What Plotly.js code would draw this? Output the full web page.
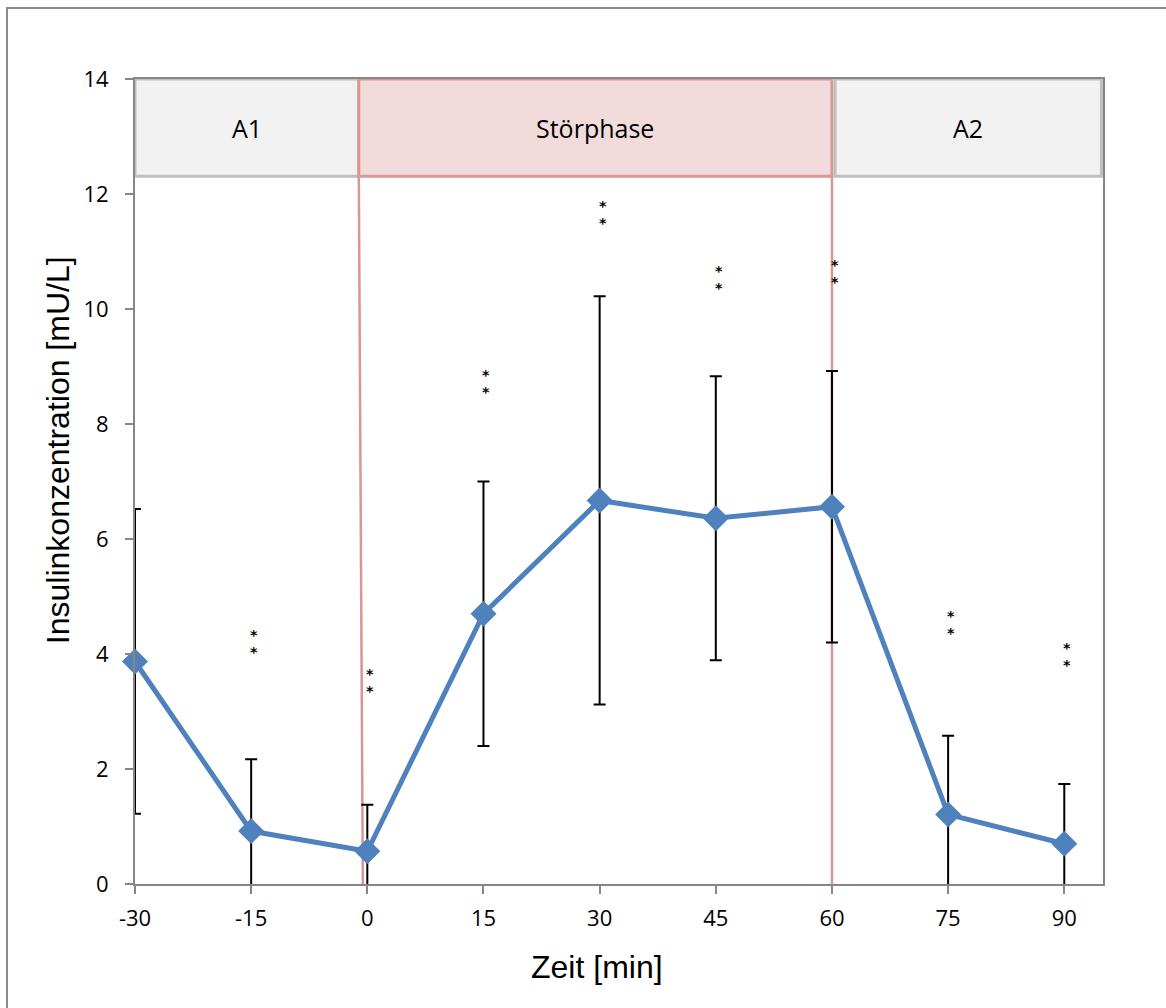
<!DOCTYPE html>
<html>
<head>
<meta charset="utf-8">
<script src="https://cdn.plot.ly/plotly-3.0.1.min.js"></script>
<style>
  html, body { margin: 0; padding: 0; background: #fff; }
  #wrap { position: relative; width: 1166px; height: 1008px; overflow: hidden; }
  #chart { width: 1166px; height: 1008px; }
  #frame { position: absolute; left: 6px; top: 7px; width: 1300px; height: 1200px;
           border-left: 2px solid #8c8c8c; border-top: 2px solid #8c8c8c; pointer-events: none; }
</style>
</head>
<body>
<div id="wrap">
  <div id="chart"></div>
  <div id="frame"></div>
</div>
<script>
// ---- data ----
const zeit = [-30, -15, 0, 15, 30, 45, 60, 75, 90];
const tickLabels = ['-30', '-15', '0', '15', '30', '45', '60', '75', '90'];
const insulin = [3.87, 0.92, 0.57, 4.70, 6.67, 6.36, 6.56, 1.21, 0.70];
const sd = [2.65, 1.25, 0.81, 2.30, 3.55, 2.47, 2.36, 1.37, 1.04];
// y position (centre) of the "**" significance marks, null = none
const sigPos = [null, 4.18, 3.51, 8.71, 11.65, 10.52, 10.62, 4.52, 3.95];
const sigText = '**';
const phaseNames = ['A1', 'Störphase', 'A2'];
const phaseStart = [-30, -1.1, 60.4];
const phaseEnd = [-1.1, 60, 94.8];
const phaseBandBottom = 12.31;
const xTitle = 'Zeit [min]';
const yTitle = 'Insulinkonzentration [mU/L]';

const blue = '#4F81BD';
const axisGrey = '#868686';

const traces = [
  { // error bars (clipped to plot area)
    x: zeit, y: insulin, type: 'scatter', mode: 'markers',
    marker: { size: 1, color: 'rgba(0,0,0,0)' },
    error_y: { type: 'data', array: sd, visible: true, color: '#000', thickness: 2, width: 6 },
    hoverinfo: 'skip', showlegend: false
  },
  { // mean line
    x: zeit, y: insulin, type: 'scatter', mode: 'lines+markers',
    line: { color: blue, width: 5 },
    marker: { symbol: 'diamond', size: 20, color: blue },
    cliponaxis: false, showlegend: false
  }
];

const shapes = [];
const annotations = [];
phaseNames.forEach((name, i) => {
  const isStoer = name === 'Störphase';
  shapes.push({
    type: 'rect', xref: 'x', yref: 'y', layer: 'above',
    x0: phaseStart[i], x1: phaseEnd[i], y0: phaseBandBottom, y1: 14,
    fillcolor: isStoer ? '#F2DCDB' : '#F2F2F2',
    line: { color: isStoer ? '#D99694' : '#BFBFBF', width: 3 }
  });
  annotations.push({
    xref: 'x', yref: 'y', x: (phaseStart[i] + phaseEnd[i]) / 2, y: (phaseBandBottom + 14) / 2,
    text: name, showarrow: false, xanchor: 'center', yanchor: 'middle',
    font: { family: 'Open Sans, sans-serif', size: 25, color: '#000' }
  });
});
// red phase boundary lines
shapes.push({ type: 'line', xref: 'x', yref: 'y', layer: 'below',
  x0: phaseEnd[0], y0: phaseBandBottom, x1: -0.58, y1: 0, line: { color: '#D99694', width: 2.5 } });
shapes.push({ type: 'line', xref: 'x', yref: 'y', layer: 'below',
  x0: phaseEnd[1], y0: phaseBandBottom, x1: phaseEnd[1], y1: 0, line: { color: '#D99694', width: 2.5 } });

// significance asterisks: two stacked stars in one text
zeit.forEach((t, i) => {
  if (sigPos[i] === null) return;
  const stars = sigText.split('').map(c => '<b><span style="font-size:14.3px">' + c + '</span></b>').join('<br>');
  annotations.push({
    xref: 'x', yref: 'y', x: t, y: sigPos[i], xshift: 3, yshift: 0,
    text: stars, showarrow: false, xanchor: 'center', yanchor: 'middle',
    font: { family: 'DejaVu Sans, sans-serif', size: 13, color: '#000' }
  });
});

// axis titles (placed as in the reference, slightly off-centre)
annotations.push({
  xref: 'paper', yref: 'paper', x: 0.4768, y: -0.1031, xanchor: 'center', yanchor: 'middle',
  text: xTitle, showarrow: false,
  font: { family: 'Liberation Sans, Arial, sans-serif', size: 32, color: '#000' }
});
annotations.push({
  xref: 'paper', yref: 'paper', x: -0.0795, y: 0.539, xanchor: 'center', yanchor: 'middle',
  text: yTitle, showarrow: false, textangle: -90,
  font: { family: 'Liberation Sans, Arial, sans-serif', size: 32, color: '#000' }
});

const layout = {
  width: 1166, height: 1008,
  margin: { l: 135, r: 63, t: 79, b: 124, pad: 0 },
  paper_bgcolor: '#fff', plot_bgcolor: '#fff',
  showlegend: false,
  xaxis: {
    range: [-30, 95], tickmode: 'array', tickvals: zeit, ticktext: tickLabels,
    ticks: 'outside', ticklen: 8, tickwidth: 2, tickcolor: axisGrey,
    showline: true, linecolor: axisGrey, linewidth: 2, mirror: true,
    showgrid: false, zeroline: false, ticklabelstandoff: 6,
    tickfont: { family: 'Open Sans, sans-serif', size: 22, color: '#000' }
  },
  yaxis: {
    range: [0, 14], tickmode: 'linear', tick0: 0, dtick: 2,
    ticks: 'outside', ticklen: 8, tickwidth: 2, tickcolor: axisGrey,
    showline: true, linecolor: axisGrey, linewidth: 2, mirror: true,
    showgrid: false, zeroline: false, ticklabelstandoff: 12,
    tickfont: { family: 'Open Sans, sans-serif', size: 22, color: '#000' }
  },
  shapes: shapes,
  annotations: annotations
};

Plotly.newPlot('chart', traces, layout, { displayModeBar: false, staticPlot: true });
</script>
</body>
</html>
